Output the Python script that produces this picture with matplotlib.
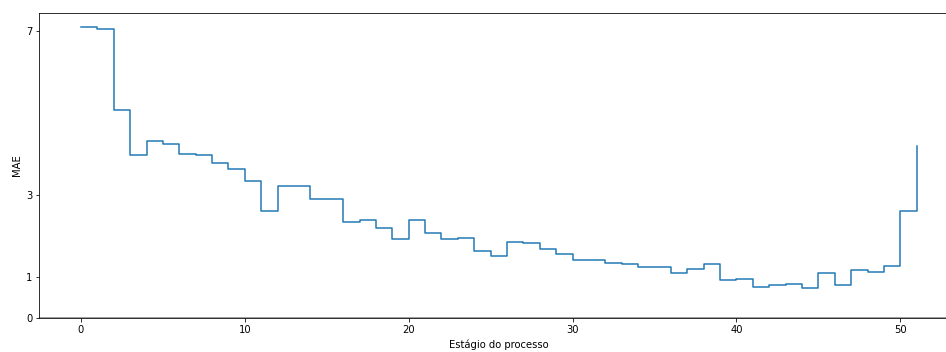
import matplotlib
matplotlib.use("Agg")
import matplotlib.pyplot as plt
import numpy as np

stages = list(range(52))
mae = [7.10, 7.03, 5.06, 3.98, 4.32, 4.23, 4.00, 3.96, 3.77, 3.62,
       3.33, 2.60, 3.21, 3.21, 2.90, 2.91, 2.35, 2.39, 2.20, 1.93,
       2.39, 2.07, 1.92, 1.95, 1.64, 1.51, 1.85, 1.82, 1.68, 1.55,
       1.42, 1.42, 1.35, 1.31, 1.25, 1.24, 1.10, 1.20, 1.31, 0.92,
       0.96, 0.76, 0.80, 0.84, 0.72, 1.09, 0.80, 1.17, 1.12, 1.27,
       2.61, 4.20]
yticks = [0, 1, 3, 7]
xticks = [0, 10, 20, 30, 40, 50]

W, H = 946, 352
dpi = 72
fig = plt.figure(figsize=(W / dpi, H / dpi), dpi=dpi)
left_px, right_px, top_px, bottom_px = 39.2, 958.5, 13, 318
ax = fig.add_axes([left_px / W, (H - bottom_px) / H,
                   (right_px - left_px) / W, (bottom_px - top_px) / H])
ax.step(stages, mae, where='post', color='#1f77b4', linewidth=1.5)
ax.axhline(0, color='gray', linewidth=1.5)
ax.set_xlim(-2.55, 53.55)
ax.set_ylim(0, 7.43)
ax.set_yticks(yticks)
ax.set_xticks(xticks)
ax.set_xlabel('Estágio do processo')
ax.set_ylabel('MAE')
fig.savefig('out.png', dpi=dpi)
